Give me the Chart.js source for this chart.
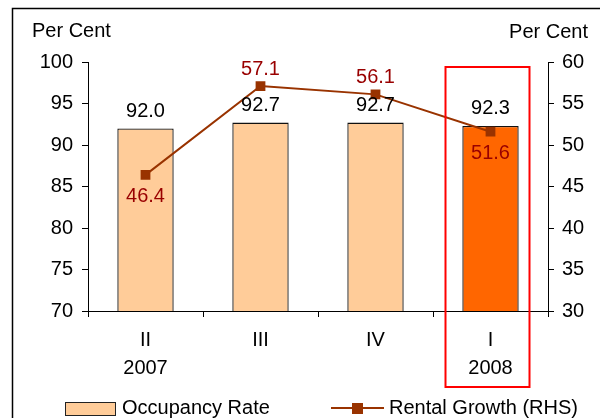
<!DOCTYPE html>
<html>
<head>
<meta charset="utf-8">
<script src="https://cdn.jsdelivr.net/npm/chart.js@4/dist/chart.umd.min.js"></script>
<style>
  html, body { margin: 0; padding: 0; background: #fff; }
  #wrap { width: 600px; height: 418px; position: relative; }
</style>
</head>
<body>
<div id="wrap"><canvas id="chart-office" width="600" height="418"></canvas></div>
<script>
  // Data
  // --------------------------------------------------
  var quarters = [["II", "2007"], ["III", ""], ["IV", ""], ["I", "2008"]];
  var occupancyRate = [92.0, 92.7, 92.7, 92.3];
  var rentalGrowth = [46.4, 57.1, 56.1, 51.6];
  var leftTicks = [70, 75, 80, 85, 90, 95, 100];
  var rightTicks = [30, 35, 40, 45, 50, 55, 60];
  var rentalLabelBelow = [true, false, false, true];
  var highlightIndex = 3;

  var FONT = '"Liberation Sans", Arial, sans-serif';
  var FONT_SIZE = 20;
  var LINE_COLOR = "#993300";
  var BAR_COLOR = "#FFCC99";
  var BAR_HIGHLIGHT = "#FF6600";

  Chart.defaults.font.family = FONT;
  Chart.defaults.font.size = FONT_SIZE;
  Chart.defaults.color = "#000";

  // Extras plugin - labels, highlight box, legend, frame
  // --------------------------------------------------
  var extras = {
    id: "extras",
    beforeDraw: function (chart) {
      var ctx = chart.ctx;
      ctx.save();
      ctx.fillStyle = "#fff";
      ctx.fillRect(0, 0, chart.width, chart.height);
      ctx.strokeStyle = "#000";
      ctx.lineWidth = 1.5;
      ctx.beginPath();
      ctx.moveTo(12.5, chart.height + 2);
      ctx.lineTo(12.5, 8.5);
      ctx.lineTo(chart.width + 2, 8.5);
      ctx.stroke();
      ctx.restore();
    },
    afterDatasetsDraw: function (chart) {
      var ctx = chart.ctx;
      var area = chart.chartArea;
      ctx.save();
      ctx.font = FONT_SIZE + "px " + FONT;
      ctx.textAlign = "center";
      ctx.textBaseline = "middle";

      // bar values
      chart.getDatasetMeta(0).data.forEach(function (el, i) {
        ctx.fillStyle = "#000";
        ctx.fillText(occupancyRate[i].toFixed(1), el.x, el.y - 17);
      });

      // line values
      chart.getDatasetMeta(1).data.forEach(function (el, i) {
        ctx.fillStyle = "#990000";
        var dy = rentalLabelBelow[i] ? 22 : -17;
        ctx.fillText(rentalGrowth[i].toFixed(1), el.x, el.y + dy);
      });

      // highlight box on latest quarter
      var cx = chart.scales.x.getPixelForValue(highlightIndex);
      ctx.strokeStyle = "#FF0000";
      ctx.lineWidth = 2;
      ctx.strokeRect(cx - 45, area.top + 5, 84, 387 - area.top - 5);

      // axis titles
      ctx.fillStyle = "#000";
      ctx.textAlign = "left";
      ctx.fillText("Per Cent", 32, 31);
      ctx.textAlign = "right";
      ctx.fillText("Per Cent", 588, 32);

      // legend
      var ly = 408;
      ctx.fillStyle = BAR_COLOR;
      ctx.fillRect(65, ly - 6, 50, 13);
      ctx.strokeStyle = "#222";
      ctx.lineWidth = 1;
      ctx.strokeRect(65.5, ly - 5.5, 50, 13);
      ctx.textAlign = "left";
      ctx.fillStyle = "#000";
      ctx.fillText("Occupancy Rate", 122, ly);

      ctx.strokeStyle = LINE_COLOR;
      ctx.lineWidth = 2;
      ctx.beginPath();
      ctx.moveTo(331, ly);
      ctx.lineTo(384, ly);
      ctx.stroke();
      ctx.fillStyle = LINE_COLOR;
      ctx.fillRect(352, ly - 5, 11, 11);
      ctx.fillStyle = "#000";
      ctx.fillText("Rental Growth (RHS)", 389, ly);
      ctx.restore();
    }
  };

  // Chart - Occupancy and Rental Growth
  // --------------------------------------------------
  var configOffice = document.getElementById("chart-office").getContext("2d");
  var officeChart = new Chart(configOffice, {
    type: "bar",
    data: {
      labels: quarters,
      datasets: [
        {
          label: "Occupancy Rate",
          data: occupancyRate,
          yAxisID: "y",
          backgroundColor: occupancyRate.map(function (v, i) {
            return i === highlightIndex ? BAR_HIGHLIGHT : BAR_COLOR;
          }),
          borderColor: "#111",
          borderWidth: 1.3,
          categoryPercentage: 1,
          barPercentage: 0.49,
          order: 2
        },
        {
          type: "line",
          label: "Rental Growth (RHS)",
          data: rentalGrowth,
          yAxisID: "y1",
          borderColor: LINE_COLOR,
          backgroundColor: LINE_COLOR,
          borderWidth: 2,
          pointStyle: "rect",
          pointRadius: 5.5,
          tension: 0,
          order: 1
        }
      ]
    },
    options: {
      responsive: false,
      animation: false,
      events: [],
      layout: { padding: { top: 62, left: 0, right: 0, bottom: 0 } },
      plugins: {
        legend: { display: false },
        tooltip: { enabled: false }
      },
      scales: {
        x: {
          grid: { drawOnChartArea: false, color: "#000", tickLength: 6, offset: true },
          border: { color: "#000", width: 1 },
          ticks: { padding: 9, font: { size: FONT_SIZE, lineHeight: 1.4 } },
          afterFit: function (scale) { scale.height = 107; }
        },
        y: {
          position: "left",
          min: leftTicks[0],
          max: leftTicks[leftTicks.length - 1],
          afterBuildTicks: function (scale) {
            scale.ticks = leftTicks.map(function (v) { return { value: v }; });
          },
          grid: { drawOnChartArea: false, color: "#000", tickLength: 6 },
          border: { color: "#000", width: 1 },
          ticks: { padding: 9 },
          afterFit: function (scale) { scale.width = 88; }
        },
        y1: {
          position: "right",
          min: rightTicks[0],
          max: rightTicks[rightTicks.length - 1],
          afterBuildTicks: function (scale) {
            scale.ticks = rightTicks.map(function (v) { return { value: v }; });
          },
          grid: { drawOnChartArea: false, color: "#000", tickLength: 6 },
          border: { color: "#000", width: 1 },
          ticks: { padding: 8 },
          afterFit: function (scale) { scale.width = 52; }
        }
      }
    },
    plugins: [extras]
  });
</script>
</body>
</html>
